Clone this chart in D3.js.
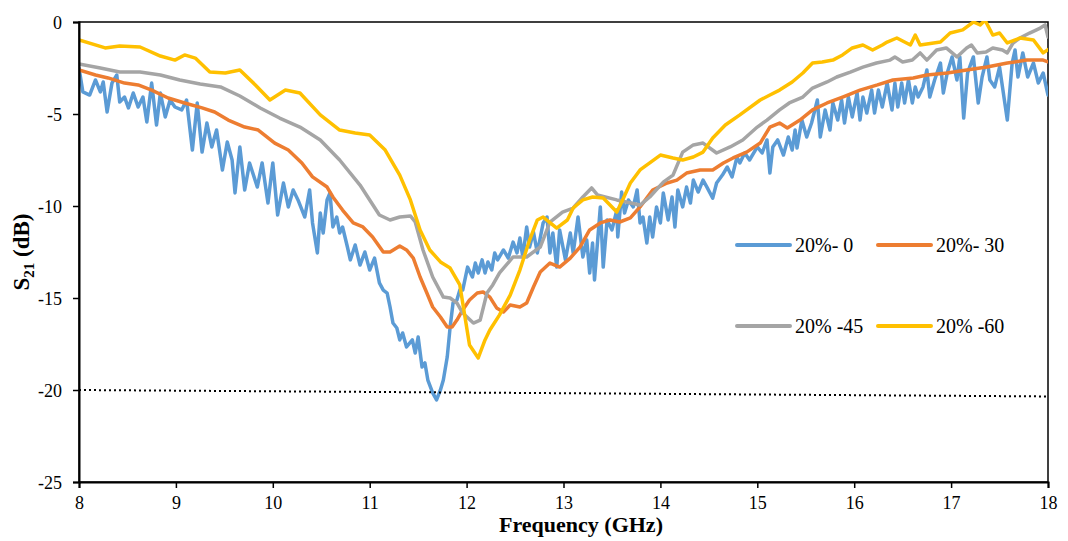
<!DOCTYPE html>
<html><head><meta charset="utf-8">
<script src="https://cdn.jsdelivr.net/npm/d3@7"></script>
<style>
html,body{margin:0;padding:0;background:#fff;}
svg text{font-family:"Liberation Serif","Times New Roman",serif;fill:#000;}
</style></head>
<body><svg id="chart" width="1068" height="541" font-family="Liberation Serif"></svg>
<script>
// ---- data ----
const xTicks = [8, 9, 10, 11, 12, 13, 14, 15, 16, 17, 18];
const yTicks = [-25, -20, -15, -10, -5, 0];
const yTickLabels = ["-25", "-20", "-15", "-10", "-5", "0"];
const seriesNames = ["20%- 0", "20%- 30", "20% -45", "20% -60"];
const seriesColors = ["#5B9BD5", "#ED7D31", "#A5A5A5", "#FFC000"];
const thresholdLine = [[8, -20.0], [18, -20.35]];

// 20%- 0  [GHz, dB]
const s0 = [[8.00,-2.50],[8.04,-3.80],[8.11,-3.97],[8.17,-3.15],[8.22,-3.80],[8.25,-3.26],[8.29,-4.89],[8.34,-3.32],[8.39,-2.88],[8.42,-4.35],[8.47,-4.08],[8.51,-4.67],[8.56,-3.86],[8.61,-4.62],[8.66,-4.08],[8.70,-5.43],[8.75,-3.32],[8.80,-5.60],[8.84,-3.86],[8.89,-5.16],[8.94,-4.24],[8.99,-4.62],[9.06,-4.78],[9.11,-4.24],[9.17,-6.96],[9.22,-4.40],[9.27,-7.07],[9.32,-5.49],[9.37,-6.79],[9.42,-5.87],[9.48,-8.04],[9.53,-6.52],[9.58,-7.50],[9.61,-9.29],[9.66,-6.79],[9.71,-9.13],[9.76,-7.66],[9.84,-8.97],[9.89,-7.66],[9.95,-9.84],[10.00,-7.66],[10.05,-10.49],[10.11,-8.75],[10.16,-10.05],[10.21,-9.13],[10.26,-9.67],[10.33,-10.60],[10.38,-9.13],[10.41,-10.92],[10.46,-12.55],[10.49,-10.38],[10.52,-11.47],[10.56,-9.67],[10.59,-9.29],[10.62,-11.14],[10.66,-10.60],[10.69,-11.47],[10.72,-11.14],[10.77,-12.23],[10.80,-12.93],[10.85,-12.12],[10.90,-13.21],[10.95,-12.50],[11.00,-13.48],[11.05,-12.83],[11.10,-14.18],[11.14,-14.57],[11.18,-14.73],[11.21,-15.49],[11.24,-16.36],[11.28,-16.63],[11.31,-17.28],[11.34,-16.90],[11.38,-17.66],[11.44,-17.28],[11.47,-17.99],[11.50,-17.12],[11.54,-18.75],[11.57,-18.53],[11.60,-19.46],[11.65,-20.16],[11.69,-20.54],[11.73,-20.00],[11.76,-19.46],[11.80,-18.21],[11.83,-16.58],[11.86,-15.27],[11.90,-15.11],[11.93,-14.57],[11.96,-14.57],[12.01,-13.32],[12.06,-13.86],[12.09,-13.10],[12.12,-13.64],[12.16,-12.93],[12.19,-13.64],[12.22,-13.04],[12.26,-13.48],[12.29,-12.55],[12.32,-12.93],[12.38,-12.39],[12.43,-12.83],[12.48,-11.96],[12.52,-12.55],[12.55,-11.74],[12.58,-12.77],[12.62,-11.14],[12.65,-12.23],[12.69,-11.41],[12.73,-12.55],[12.79,-10.92],[12.83,-10.60],[12.86,-12.55],[12.89,-11.47],[12.93,-13.32],[12.96,-11.30],[13.02,-12.93],[13.07,-11.47],[13.10,-12.55],[13.15,-10.60],[13.20,-12.77],[13.24,-11.85],[13.27,-13.64],[13.30,-12.01],[13.32,-14.02],[13.38,-10.05],[13.41,-13.32],[13.45,-10.76],[13.50,-11.30],[13.55,-10.22],[13.56,-11.68],[13.60,-9.24],[13.63,-10.38],[13.67,-9.67],[13.72,-10.05],[13.76,-9.13],[13.79,-10.92],[13.82,-10.60],[13.86,-12.01],[13.89,-10.60],[13.92,-11.68],[13.96,-10.05],[14.00,-10.92],[14.03,-9.29],[14.08,-10.76],[14.12,-9.51],[14.15,-11.14],[14.18,-9.13],[14.23,-10.05],[14.27,-8.97],[14.31,-9.84],[14.34,-8.59],[14.39,-9.24],[14.44,-8.59],[14.48,-8.97],[14.54,-9.57],[14.58,-8.75],[14.64,-8.32],[14.69,-7.88],[14.74,-8.42],[14.79,-7.34],[14.82,-7.66],[14.87,-7.12],[14.92,-7.50],[15.00,-6.79],[15.05,-7.12],[15.10,-6.41],[15.13,-8.21],[15.16,-6.79],[15.21,-6.41],[15.27,-7.23],[15.32,-6.25],[15.36,-6.96],[15.39,-5.87],[15.41,-6.85],[15.46,-5.33],[15.51,-6.25],[15.56,-5.49],[15.62,-4.24],[15.65,-6.25],[15.70,-4.78],[15.75,-5.87],[15.78,-4.40],[15.83,-5.33],[15.87,-4.24],[15.90,-5.49],[15.94,-4.08],[15.98,-5.16],[16.03,-3.86],[16.06,-5.33],[16.09,-4.08],[16.13,-4.95],[16.18,-3.70],[16.21,-4.95],[16.25,-3.70],[16.29,-4.62],[16.34,-3.32],[16.39,-4.78],[16.42,-3.32],[16.45,-4.62],[16.49,-3.32],[16.52,-4.40],[16.56,-3.15],[16.60,-4.40],[16.63,-3.53],[16.66,-4.08],[16.71,-3.53],[16.75,-2.61],[16.78,-4.08],[16.83,-3.15],[16.89,-2.23],[16.92,-3.86],[16.96,-2.77],[17.01,-1.90],[17.06,-3.15],[17.09,-1.90],[17.13,-5.22],[17.17,-2.77],[17.23,-1.90],[17.28,-4.40],[17.32,-2.99],[17.37,-1.90],[17.40,-3.15],[17.45,-3.53],[17.50,-2.45],[17.58,-5.33],[17.63,-2.23],[17.66,-1.52],[17.69,-2.99],[17.74,-1.68],[17.79,-2.99],[17.85,-2.23],[17.90,-3.32],[17.95,-2.77],[18.00,-3.97]];

// 20%- 30
const s30 = [[8.00,-2.61],[8.17,-2.88],[8.30,-3.04],[8.47,-3.32],[8.61,-3.42],[8.75,-3.70],[8.92,-4.13],[9.09,-4.40],[9.27,-4.67],[9.40,-4.89],[9.54,-5.33],[9.71,-5.71],[9.85,-5.87],[10.02,-6.58],[10.16,-6.96],[10.30,-7.66],[10.41,-8.42],[10.56,-8.97],[10.62,-9.51],[10.72,-10.22],[10.83,-10.92],[10.93,-11.14],[11.03,-11.68],[11.14,-12.50],[11.21,-12.50],[11.31,-12.17],[11.38,-12.39],[11.45,-12.83],[11.52,-13.86],[11.59,-14.73],[11.65,-15.49],[11.73,-16.03],[11.80,-16.58],[11.85,-16.58],[11.90,-16.20],[11.96,-15.65],[12.03,-15.11],[12.11,-14.73],[12.17,-14.67],[12.24,-14.95],[12.31,-15.54],[12.38,-15.76],[12.45,-15.38],[12.55,-15.49],[12.62,-15.27],[12.69,-14.40],[12.76,-13.59],[12.86,-13.10],[12.96,-13.32],[13.07,-12.83],[13.17,-12.23],[13.27,-11.30],[13.38,-10.92],[13.48,-10.76],[13.58,-10.87],[13.69,-10.65],[13.79,-10.05],[13.92,-9.13],[14.07,-8.75],[14.17,-8.59],[14.27,-8.21],[14.41,-8.04],[14.54,-8.04],[14.65,-7.66],[14.75,-7.39],[14.89,-7.07],[15.03,-6.58],[15.13,-5.71],[15.23,-5.49],[15.31,-5.76],[15.44,-5.33],[15.57,-4.78],[15.72,-4.40],[15.88,-4.08],[16.06,-3.70],[16.24,-3.42],[16.40,-3.15],[16.61,-3.04],[16.75,-2.88],[16.96,-2.77],[17.16,-2.61],[17.37,-2.45],[17.58,-2.23],[17.78,-2.07],[17.95,-2.07],[18.00,-2.17]];

// 20% -45
const s45 = [[8.00,-2.28],[8.22,-2.50],[8.42,-2.72],[8.63,-2.72],[8.84,-2.88],[9.04,-3.15],[9.25,-3.37],[9.46,-3.53],[9.66,-4.02],[9.87,-4.67],[10.07,-5.22],[10.28,-5.71],[10.49,-6.41],[10.69,-7.50],[10.90,-8.86],[11.10,-10.49],[11.21,-10.76],[11.31,-10.60],[11.42,-10.54],[11.47,-10.87],[11.55,-12.39],[11.65,-13.86],[11.76,-14.95],[11.83,-15.00],[11.90,-15.27],[11.96,-15.82],[12.07,-16.36],[12.14,-16.20],[12.21,-14.73],[12.27,-14.29],[12.34,-13.64],[12.48,-12.77],[12.62,-12.77],[12.76,-12.23],[12.86,-10.87],[12.99,-10.33],[13.10,-10.11],[13.20,-9.51],[13.29,-9.02],[13.35,-9.40],[13.55,-9.67],[13.79,-9.95],[13.89,-9.51],[14.03,-8.70],[14.13,-8.32],[14.23,-7.07],[14.34,-6.68],[14.44,-6.58],[14.58,-7.12],[14.72,-6.79],[14.85,-6.41],[15.00,-5.71],[15.10,-5.33],[15.23,-4.78],[15.33,-4.40],[15.47,-4.08],[15.57,-3.59],[15.72,-3.26],[15.82,-2.99],[15.96,-2.72],[16.09,-2.45],[16.23,-2.23],[16.37,-2.07],[16.42,-1.90],[16.50,-2.17],[16.60,-2.07],[16.68,-1.68],[16.75,-2.07],[16.85,-1.52],[16.95,-1.41],[17.06,-1.90],[17.16,-1.41],[17.21,-1.25],[17.27,-1.68],[17.36,-1.63],[17.43,-1.41],[17.53,-1.52],[17.58,-1.68],[17.64,-1.14],[17.71,-0.87],[17.81,-0.60],[17.92,-0.33],[17.97,-0.16],[18.00,-0.82]];

// 20% -60
const s60 = [[8.00,-0.98],[8.27,-1.41],[8.42,-1.30],[8.63,-1.36],[8.84,-1.85],[8.99,-2.07],[9.09,-1.79],[9.20,-1.96],[9.35,-2.72],[9.51,-2.77],[9.66,-2.61],[9.82,-3.42],[9.97,-4.24],[10.13,-3.70],[10.28,-3.86],[10.49,-5.05],[10.69,-5.87],[10.85,-6.03],[11.00,-6.14],[11.16,-6.96],[11.31,-8.32],[11.42,-9.67],[11.52,-11.30],[11.62,-12.39],[11.73,-13.04],[11.83,-13.37],[11.93,-14.29],[11.98,-15.92],[12.03,-17.55],[12.12,-18.26],[12.19,-17.28],[12.24,-16.74],[12.34,-15.92],[12.45,-14.84],[12.55,-13.48],[12.65,-11.85],[12.73,-10.76],[12.79,-10.60],[12.93,-11.20],[13.04,-10.76],[13.10,-10.11],[13.20,-9.67],[13.30,-9.51],[13.41,-9.57],[13.48,-9.95],[13.55,-10.33],[13.61,-9.67],[13.69,-8.75],[13.79,-8.04],[13.89,-7.66],[14.00,-7.23],[14.13,-7.39],[14.23,-7.50],[14.34,-7.34],[14.44,-7.07],[14.54,-6.30],[14.62,-5.87],[14.67,-5.60],[14.82,-5.05],[15.03,-4.24],[15.13,-3.97],[15.23,-3.70],[15.36,-3.26],[15.47,-2.77],[15.57,-2.23],[15.67,-2.17],[15.78,-2.07],[15.88,-1.79],[15.98,-1.41],[16.09,-1.25],[16.19,-1.52],[16.29,-1.25],[16.34,-1.09],[16.44,-0.87],[16.58,-1.25],[16.63,-0.71],[16.68,-1.25],[16.89,-1.09],[16.99,-0.60],[17.12,-0.43],[17.23,0.00],[17.30,-0.16],[17.35,0.10],[17.43,-0.71],[17.50,-0.60],[17.58,-1.14],[17.71,-0.87],[17.85,-0.98],[17.95,-1.68],[18.00,-1.50]];

const seriesData = [s0, s30, s45, s60];

// ---- chart ----
const FONT = "Liberation Serif";
const svg = d3.select("#chart");
const mLeft = 79, mRight = 1048, mTop = 22, mBottom = 482;
const x = d3.scaleLinear().domain([8, 18]).range([mLeft, mRight]);
const y = d3.scaleLinear().domain([-25, 0]).range([mBottom, mTop]);

svg.append("defs").append("clipPath").attr("id", "plotclip")
  .append("rect").attr("x", mLeft).attr("y", mTop - 1).attr("width", mRight - mLeft).attr("height", mBottom - mTop + 1);

// frame (top & right)
svg.append("rect").attr("x", mLeft).attr("y", mTop).attr("width", mRight - mLeft).attr("height", mBottom - mTop)
  .attr("fill", "none").attr("stroke", "#000").attr("stroke-width", 1.5);

const line = d3.line().x(d => x(d[0])).y(d => y(d[1])).curve(d3.curveLinear);
const g = svg.append("g").attr("clip-path", "url(#plotclip)");

seriesData.forEach((s, i) => {
  g.append("path").datum(s).attr("d", line)
    .attr("fill", "none").attr("stroke", seriesColors[i]).attr("stroke-width", 3.5)
    .attr("stroke-linejoin", "round").attr("stroke-linecap", "round");
});

// dotted threshold line
g.append("path").datum(thresholdLine).attr("d", line)
  .attr("fill", "none").attr("stroke", "#000").attr("stroke-width", 2).attr("stroke-dasharray", "2,3");

// axes
const xAxis = d3.axisBottom(x).tickValues(xTicks).tickSize(6).tickFormat(d => String(d));
const yAxis = d3.axisLeft(y).tickValues(yTicks).tickSize(6).tickFormat((d, i) => yTickLabels[i]);

const gx = svg.append("g").attr("transform", `translate(0,${mBottom})`).call(xAxis);
const gy = svg.append("g").attr("transform", `translate(${mLeft},0)`).call(yAxis);
[gx, gy].forEach(a => {
  a.attr("font-family", FONT);
  a.select(".domain").attr("stroke", "#000").attr("stroke-width", 2);
  a.selectAll(".tick line").attr("stroke", "#000").attr("stroke-width", 1.5);
  a.selectAll(".tick text").attr("font-family", FONT).attr("font-size", 18).attr("fill", "#000");
});
gx.selectAll(".tick text").attr("dy", null).attr("y", 27);
gy.selectAll(".tick text").attr("x", -17).attr("dy", "0.34em");

// axis titles
svg.append("text").attr("x", 581).attr("y", 532).attr("text-anchor", "middle")
  .attr("font-family", FONT).attr("font-size", 22).attr("font-weight", "bold").text("Frequency (GHz)");

const yt = svg.append("text").attr("transform", "translate(29,252) rotate(-90)")
  .attr("text-anchor", "middle").attr("font-family", FONT).attr("font-size", 23).attr("font-weight", "bold");
yt.append("tspan").text("S");
yt.append("tspan").attr("font-size", 15).attr("dy", 5).text("21");
yt.append("tspan").attr("dy", -5).text(" (dB)");

// legend
const legendPos = [[737, 245], [878, 245], [737, 326], [878, 326]];
seriesNames.forEach((n, i) => {
  const [lx, ly] = legendPos[i];
  svg.append("line").attr("x1", lx).attr("x2", lx + 53).attr("y1", ly).attr("y2", ly)
    .attr("stroke", seriesColors[i]).attr("stroke-width", 4).attr("stroke-linecap", "round");
  svg.append("text").attr("x", lx + 58).attr("y", ly).attr("dy", "0.35em")
    .attr("font-family", FONT).attr("font-size", 20).text(n);
});
</script></body></html>
